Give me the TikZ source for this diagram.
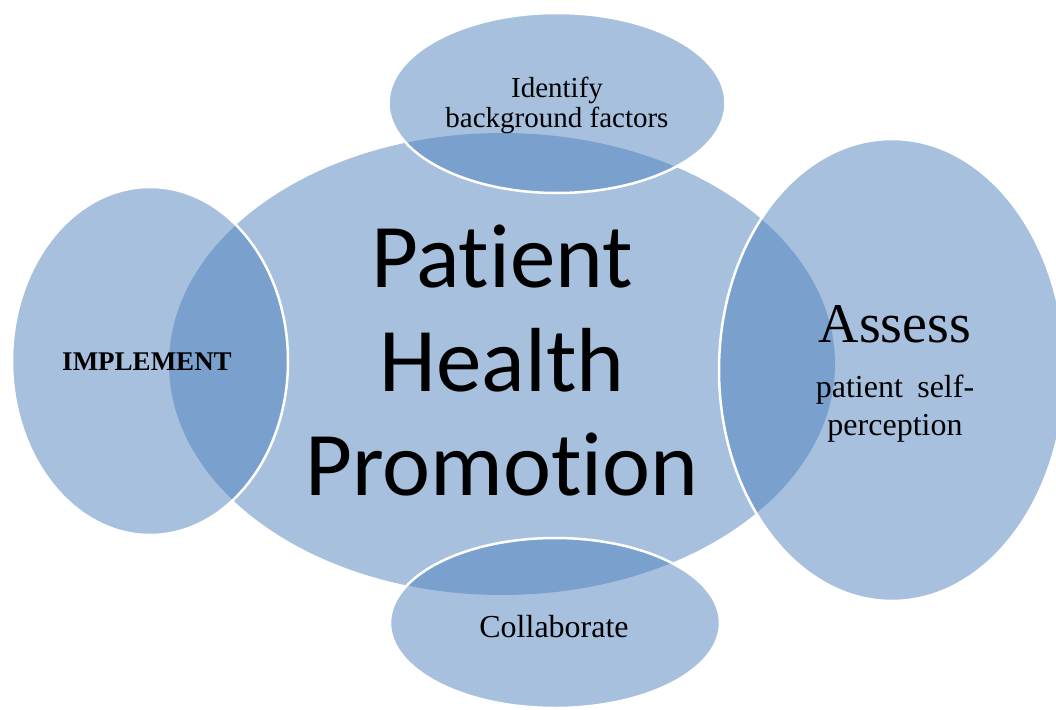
\documentclass[tikz,border=0pt]{standalone}
\usepackage{fontspec}
\setmainfont{Liberation Serif}
\newfontfamily\bigsans[Ligatures={NoCommon,NoRare}]{Carlito}
\usetikzlibrary{shapes.geometric}
\definecolor{officeblue}{RGB}{79,129,189}
\tikzset{
  blob/.style={ellipse, inner sep=0pt, fill=officeblue, fill opacity=0.5, draw=none},
  sat/.style={blob, draw=white, line width=2.5pt},
  lbl/.style={text=black, inner sep=0pt, align=center},
}
\begin{document}
\begin{tikzpicture}[x=1pt, y=-1pt]
\useasboundingbox (0,0) rectangle (1056,709);
% central ellipse
\node[blob, minimum width=666pt, minimum height=462pt] (center) at (502,364) {};
% satellites
\node[sat, minimum width=337pt, minimum height=180pt] (top) at (557,103) {};
\node[sat, minimum width=346pt, minimum height=462pt] (right) at (892,370) {};
\node[sat, minimum width=330pt, minimum height=170pt] (bottom) at (555,623) {};
\node[sat, minimum width=276pt, minimum height=348pt] (left) at (150,361) {};
% labels
\node[lbl, font=\bigsans\fontsize{91}{104}\selectfont] (main) at (502,361) {Patient\\Health\\Promotion};
\node[lbl, font=\fontsize{29}{30}\selectfont] (toplbl) at (557,105) {Identify\\background factors};
\node[lbl, anchor=base, font=\fontsize{56}{60}\selectfont] (assess) at (895,342) {Assess};
\node[lbl, font=\fontsize{32}{38}\selectfont] (selfp) at (895,409) {patient\hspace{0.45em}self-\\perception};
\node[lbl, anchor=base, font=\bfseries\fontsize{27}{30}\selectfont] (impl) at (147,370) {IMPLEMENT};
\node[lbl, anchor=base, font=\fontsize{32}{38}\selectfont] (collab) at (554,637) {Collaborate};
\end{tikzpicture}
\end{document}
